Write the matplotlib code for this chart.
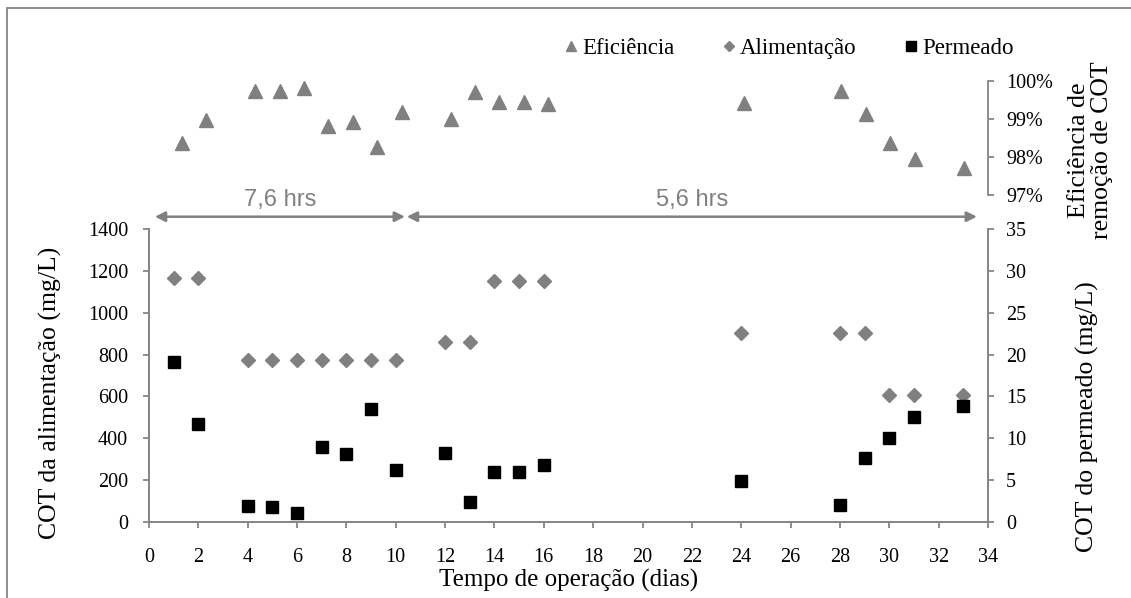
import matplotlib
matplotlib.use("Agg")
import matplotlib.pyplot as plt
from matplotlib.patches import Rectangle
from matplotlib.ticker import FuncFormatter

# dados
dias = [1, 2, 4, 5, 6, 7, 8, 9, 10, 12, 13, 14, 15, 16, 24, 28, 29, 30, 31, 33]
alimentacao = [1166, 1166, 773, 773, 773, 773, 773, 773, 773, 858, 858,
               1153, 1153, 1153, 902, 902, 902, 607, 607, 607]
permeado = [19.1, 11.7, 1.9, 1.8, 1.1, 9.0, 8.1, 13.5, 6.2, 8.3, 2.4,
            6.0, 6.0, 6.8, 4.9, 2.0, 7.7, 10.0, 12.6, 13.9]
eficiencia = [98.36, 98.97, 99.72, 99.72, 99.81, 98.82, 98.92, 98.25, 99.18,
              98.99, 99.69, 99.45, 99.45, 99.38, 99.42, 99.73, 99.12, 98.35,
              97.93, 97.71]

# periodos de TDH (inicio, fim, rotulo)
periodos = [(0.24, 10.37, "7,6 hrs"), (10.45, 33.55, "5,6 hrs")]

CINZA = "#808080"
EIXO = "#868686"
W, H = 1131, 598

plt.rcParams["font.family"] = ["Liberation Serif", "DejaVu Serif"]

fig = plt.figure(figsize=(W / 100, H / 100), dpi=100)

# moldura externa (cortada a direita e embaixo)
fig.patches.append(Rectangle((7 / W, -0.1), 1.2, 1 - 8 / H + 0.1,
                             transform=fig.transFigure, fill=False,
                             edgecolor=EIXO, lw=1.3))

# eixo inferior: COT alimentacao / permeado
ax = fig.add_axes([149 / W, 1 - 522 / H, (988 - 149) / W, (522 - 229) / H])
ax2 = ax.twinx()

ax.plot(dias, alimentacao, linestyle="none", marker="D", ms=7,
        color=CINZA, label="Alimentação")
ax2.plot(dias, permeado, linestyle="none", marker="s", ms=8.5,
         color="black", label="Permeado")

ax.set_xlim(0, 34)
ax.set_ylim(0, 1400)
ax2.set_ylim(0, 35)
ax.set_xticks(range(0, 35, 2))
ax.set_yticks(range(0, 1401, 200))
ax2.set_yticks(range(0, 36, 5))

for a in (ax, ax2):
    for s in a.spines.values():
        s.set_color(EIXO)
        s.set_linewidth(1.3)
    a.spines["top"].set_visible(False)
    a.tick_params(direction="out", length=4, width=1.3, color=EIXO,
                  labelsize=14.5)
ax.tick_params(axis="x", pad=15)
ax.tick_params(axis="y", pad=11)
ax2.tick_params(axis="y", pad=9)

ax.set_xlabel("Tempo de operação (dias)", fontsize=18)
ax.xaxis.set_label_coords(0.5, -0.16)
ax.set_ylabel("COT da alimentação (mg/L)", fontsize=18.5)
ax.yaxis.set_label_coords(-0.104, 0.44)
ax2.set_ylabel("COT do permeado (mg/L)", fontsize=18.5)
ax2.yaxis.set_label_coords(1.105, 0.36)

# setas dos periodos
for ini, fim, rot in periodos:
    ax.annotate("", xy=(fim, 1.042), xytext=(ini, 1.042),
                xycoords=("data", "axes fraction"),
                textcoords=("data", "axes fraction"),
                arrowprops=dict(arrowstyle="<|-|>", color=CINZA, lw=1.8,
                                mutation_scale=15, shrinkA=0, shrinkB=0),
                annotation_clip=False)
    ax.text((ini + fim) / 2, 1.10, rot, transform=ax.get_xaxis_transform(),
            ha="center", va="center", color=CINZA, fontsize=17,
            family=["Liberation Sans", "DejaVu Sans"])

# eixo superior: eficiencia
axe = fig.add_axes([157.5 / W, 1 - 194.7 / H, (988 - 157.5) / W, (194.7 - 80.7) / H])
axe.plot(dias, eficiencia, linestyle="none", marker="^", ms=9.5,
         color=CINZA, label="Eficiência")
axe.set_xlim(0, 34)
axe.set_ylim(97, 100)
axe.set_yticks([97, 98, 99, 100])
axe.yaxis.set_major_formatter(FuncFormatter(lambda v, p: f"{v:.0f}%"))
axe.yaxis.tick_right()
axe.yaxis.set_label_position("right")
axe.set_xticks([])
for k in ("left", "top", "bottom"):
    axe.spines[k].set_visible(False)
axe.spines["right"].set_color(EIXO)
axe.spines["right"].set_linewidth(1.3)
axe.tick_params(direction="out", length=4, width=1.3, color=EIXO,
                labelsize=14.5, pad=9)
axe.patch.set_alpha(0)
axe.set_ylabel("Eficiência de\nremoção de COT", fontsize=18.5, linespacing=1.1)
axe.yaxis.set_label_coords(1.096, 0.39)

# legenda
hs = axe.get_lines() + ax.get_lines() + ax2.get_lines()
fig.legend(hs, [h.get_label() for h in hs], loc="center left",
           bbox_to_anchor=(563 / W, 1 - 48 / H), ncol=3, frameon=False,
           fontsize=16.5, handlelength=0.7, handletextpad=0.15,
           columnspacing=2.0, borderaxespad=0, borderpad=0, markerscale=0.8)

fig.savefig("out.png", dpi=100)
